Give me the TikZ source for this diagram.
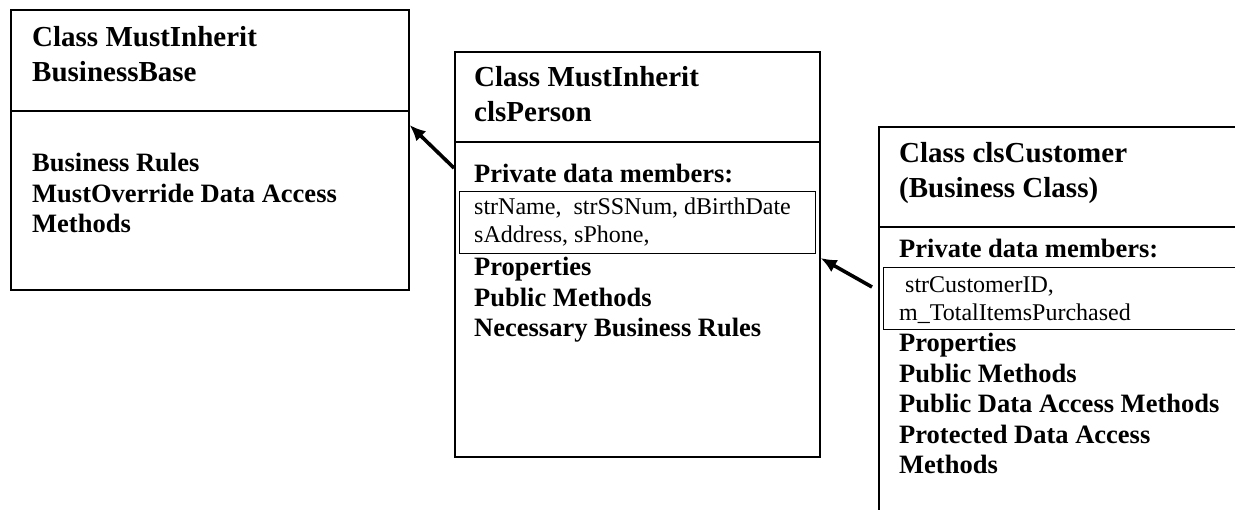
\documentclass[tikz,border=0pt]{standalone}
\usepackage{fontspec}
\setmainfont{Liberation Serif}
\usetikzlibrary{arrows.meta,positioning}

\tikzset{
  classbox/.style={draw, line width=1.6pt, anchor=north west, inner sep=0pt},
  membox/.style={draw, line width=0.9pt, anchor=north west, inner sep=0pt},
  % multi-line text nodes sit on the baseline of their last line
  classtitle/.style={anchor=base west, align=left, inner sep=0pt,
    font=\fontsize{29}{35}\selectfont\bfseries},
  classbody/.style={anchor=base west, align=left, inner sep=0pt,
    font=\fontsize{26.5}{30.5}\selectfont\bfseries},
  members/.style={anchor=base west, align=left, inner sep=0pt,
    font=\fontsize{24}{28}\selectfont},
  inherit/.style={-{Latex[length=16pt,width=14pt]}, line width=3.6pt}
}

\begin{document}
\begin{tikzpicture}[x=1pt,y=-1pt]
\useasboundingbox (0,0) rectangle (1235,510);
\clip (0,0) rectangle (1235,510);

% BusinessBase
\node[classbox, minimum width=398pt, minimum height=280pt] (base) at (10,9) {};
\draw[line width=1.6pt] ([yshift=-102pt]base.north west) -- ([yshift=-102pt]base.north east);
\node[classtitle] (baseTitle) at (32,82) {Class MustInherit\\BusinessBase};
\node[classbody] (baseBody) at (32,233) {Business Rules\\MustOverride Data Access\\Methods};

% clsPerson
\node[classbox, minimum width=365pt, minimum height=405pt] (person) at (454,51) {};
\draw[line width=1.6pt] ([yshift=-91pt]person.north west) -- ([yshift=-91pt]person.north east);
\node[classtitle] (personTitle) at (474,122) {Class MustInherit\\clsPerson};
\node[classbody] (personPriv) at (474,183) {Private data members:};
\node[membox, minimum width=356pt, minimum height=62pt] (personMem) at (459,191) {};
\node[members] (personMemText) at (474,243) {strName,~ strSSNum, dBirthDate\\sAddress, sPhone,};
\node[classbody] (personBody) at (474,337) {Properties\\Public Methods\\Necessary Business Rules};

% clsCustomer
\node[classbox, minimum width=500pt, minimum height=500pt] (customer) at (878,126) {};
\draw[line width=1.6pt] ([yshift=-101pt]customer.north west) -- ([yshift=-101pt]customer.north east);
\node[classtitle] (custTitle) at (899,198) {Class clsCustomer\\(Business Class)};
\node[classbody] (custPriv) at (899,258) {Private data members:};
\node[membox, minimum width=400pt, minimum height=62pt] (custMem) at (883,267) {};
\node[members] (custMemText) at (899,321) {\ strCustomerID,\\m\_TotalItemsPurchased};
\node[classbody] (custBody) at (899,474) {Properties\\Public Methods\\Public Data Access Methods\\Protected Data Access\\Methods};

% inheritance arrows
\coordinate (custTail) at (872,287);
\draw[inherit] (person.west |- 0,168) -- (base.east |- 0,125);
\draw[inherit] (custTail) -- (person.east |- 0,258);
\end{tikzpicture}
\end{document}
